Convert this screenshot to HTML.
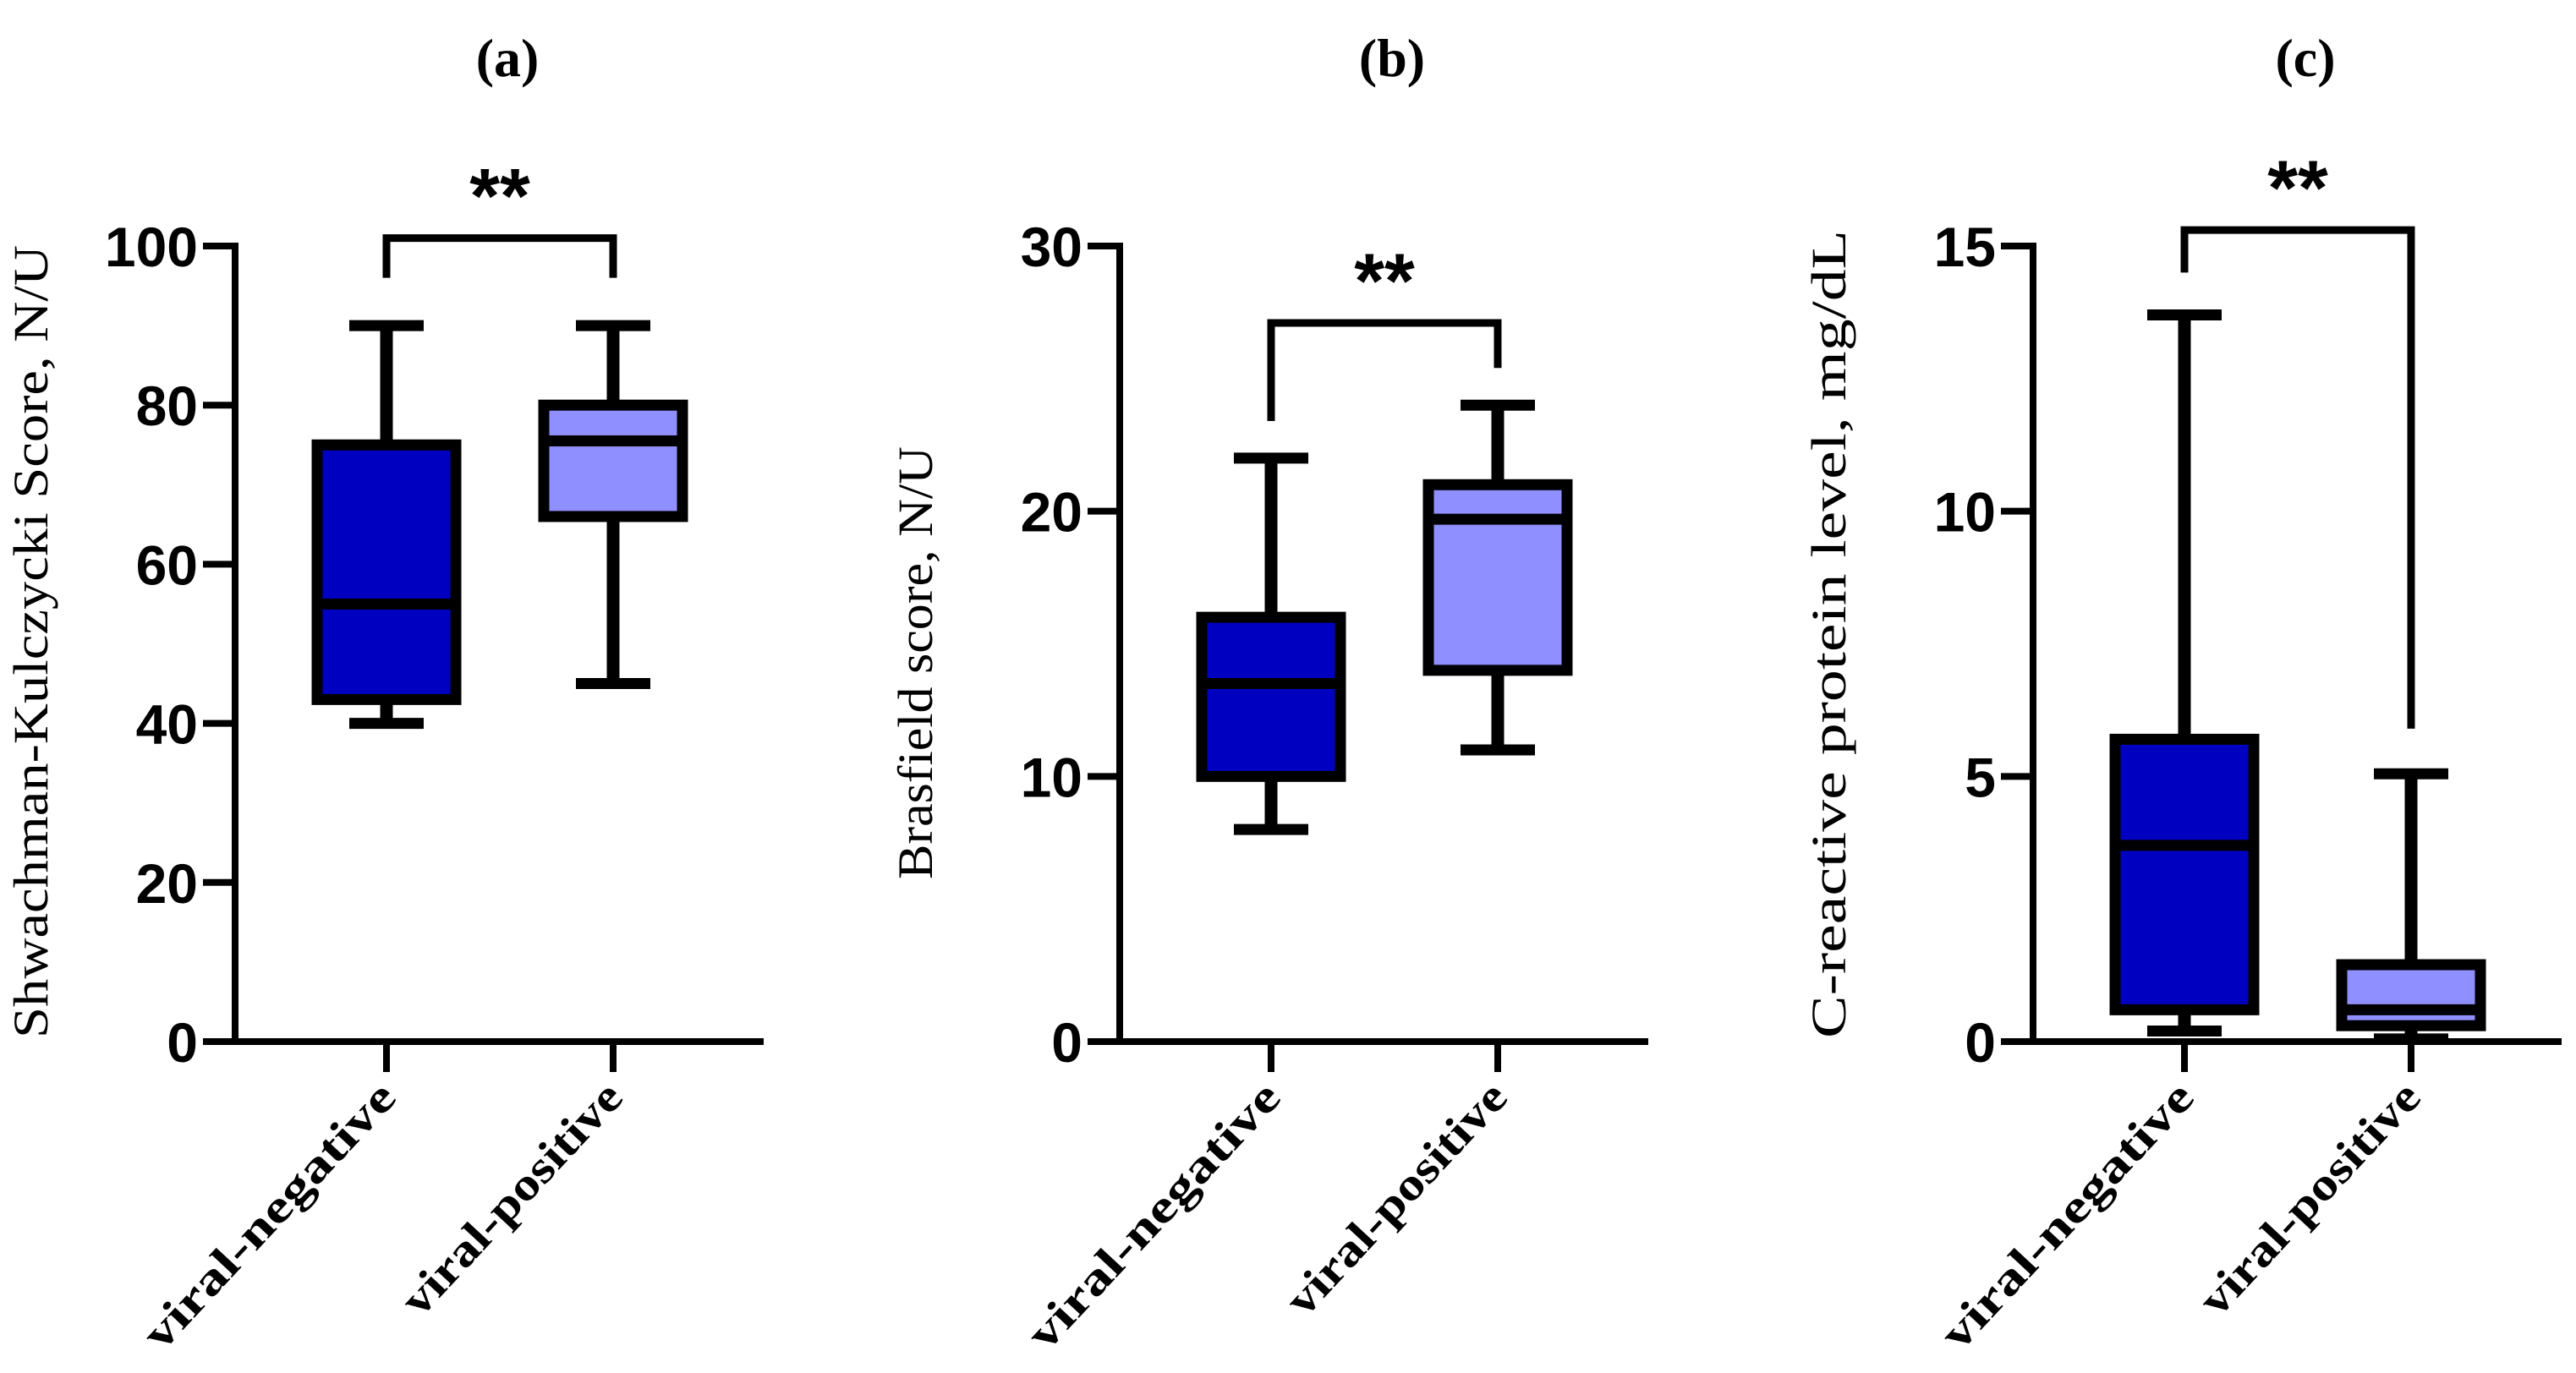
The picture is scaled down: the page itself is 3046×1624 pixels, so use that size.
<!DOCTYPE html>
<html><head><meta charset="utf-8"><style>
html,body{margin:0;padding:0;background:#fff;}
svg{display:block;}
</style></head><body>
<svg id="fig" width="3046" height="1624" viewBox="0 0 3046 1624" xmlns="http://www.w3.org/2000/svg"></svg>
<script>
const categories = ["viral-negative", "viral-positive"];
const panelLetters = ["(a)", "(b)", "(c)"];
const yTitles = ["Shwachman-Kulczycki Score, N/U", "Brasfield score, N/U", "C-reactive protein level, mg/dL"];
const yMax = [100, 30, 15];
const yTicksA = [0, 20, 40, 60, 80, 100];
const yTicksB = [0, 10, 20, 30];
const yTicksC = [0, 5, 10, 15];
// [min, q1, median, q3, max] per category
const boxA = [[40, 43, 55, 75, 90], [45, 66, 75.5, 80, 90]];
const boxB = [[8, 10, 13.5, 16, 22], [11, 14, 19.7, 21, 24]];
const boxC = [[0.2, 0.6, 3.7, 5.7, 13.7], [0.05, 0.3, 0.6, 1.45, 5.05]];
// significance bracket: [bar level, left leg end, right leg end]
const brA = [101, 96, 96];
const brB = [27.1, 23.4, 25.4];
const brC = [15.3, 14.5, 5.9];
const sigLabels = ["**", "**", "**"];

const NS = "http://www.w3.org/2000/svg";
const svg = document.getElementById("fig");
function mk(tag, attrs, parent) {
  const e = document.createElementNS(NS, tag);
  for (const k in attrs) e.setAttribute(k, attrs[k]);
  (parent || svg).appendChild(e);
  return e;
}
const Y0 = 1232, YTOP = 291;
const axesX = [278, 1324, 2404];
const ticksAll = [yTicksA, yTicksB, yTicksC];
const boxesAll = [boxA, boxB, boxC];
const brAll = [brA, brB, brC];
const colors = ["#0000c0", "#8f8fff"];

for (let p = 0; p < 3; p++) {
  const ax = axesX[p];
  const ys = v => Y0 - (v / yMax[p]) * (Y0 - YTOP);
  const xs = i => ax + 179 + i * 268;
  const g = mk("g", {});
  
  

  const t = mk("text", {x: ax + 322, y: 90, "text-anchor": "middle", "font-family": "Liberation Serif, serif", "font-weight": "bold", "font-size": 64}, g);
  t.textContent = panelLetters[p];
  
  

  const yl = mk("line", {x1: ax, y1: YTOP - 4, x2: ax, y2: Y0 + 4, stroke: "#000", "stroke-width": 8}, g);
  
  
  ticksAll[p].forEach(v => {
    const tk = mk("line", {x1: ax - 38, y1: ys(v), x2: ax, y2: ys(v), stroke: "#000", "stroke-width": 8}, g);
    
    
    const lb = mk("text", {x: ax - 44, y: ys(v) + 24, "text-anchor": "end", "font-family": "Liberation Sans, sans-serif", "font-weight": "bold", "font-size": 66}, g);
    lb.textContent = v;
    
    
  });
  const xl = mk("line", {x1: ax - 38, y1: Y0, x2: ax + 625, y2: Y0, stroke: "#000", "stroke-width": 8}, g);
  
  

  const ty = [290 + 938 / 2, 528 + 512 / 2, 272 + 956 / 2][p];
  const tl = [938, 512, 956][p];
  const yt = mk("text", {x: 0, y: 0, transform: `translate(${ax - 222},${ty}) rotate(-90)`, "text-anchor": "middle", "font-family": "Liberation Serif, serif", "font-size": 58, textLength: tl, lengthAdjust: "spacingAndGlyphs"}, g);
  yt.textContent = yTitles[p];
  
  

  categories.forEach((c, i) => {
    const cx = xs(i);
    const tk = mk("line", {x1: cx, y1: Y0, x2: cx, y2: Y0 + 36, stroke: "#000", "stroke-width": 8}, g);
    
    
    const len = i === 0 ? 410 : 355;
    const lb = mk("text", {x: 0, y: 0, transform: `translate(${cx + 14},${1300}) rotate(-47)`, "text-anchor": "end", "font-family": "Liberation Serif, serif", "font-weight": "bold", "font-size": 54, textLength: len, lengthAdjust: "spacingAndGlyphs"}, g);
    lb.textContent = c;
    
    

    const b = boxesAll[p][i];
    const wh = mk("g", {}, g);
    
    
    mk("line", {x1: cx, y1: ys(b[0]), x2: cx, y2: ys(b[4]), stroke: "#000", "stroke-width": 15}, wh);
    mk("line", {x1: cx - 44, y1: ys(b[0]), x2: cx + 44, y2: ys(b[0]), stroke: "#000", "stroke-width": 13}, wh);
    mk("line", {x1: cx - 44, y1: ys(b[4]), x2: cx + 44, y2: ys(b[4]), stroke: "#000", "stroke-width": 13}, wh);
    mk("rect", {x: cx - 82, y: ys(b[3]), width: 164, height: ys(b[1]) - ys(b[3]), fill: colors[i], stroke: "#000", "stroke-width": 13}, wh);
    mk("line", {x1: cx - 82, y1: ys(b[2]), x2: cx + 82, y2: ys(b[2]), stroke: "#000", "stroke-width": 13}, wh);
  });

  const br = brAll[p];
  const bp = mk("path", {d: `M${xs(0)},${ys(br[1])} V${ys(br[0])} H${xs(1)} V${ys(br[2])}`, fill: "none", stroke: "#000", "stroke-width": 9}, g);
  
  
  const st = mk("text", {x: (xs(0) + xs(1)) / 2, y: ys(br[0]) - 18, "text-anchor": "middle", "font-family": "Liberation Sans, sans-serif", "font-weight": "bold", "font-size": 92}, g);
  st.textContent = sigLabels[p];
  
  
}
</script>
</body></html>
